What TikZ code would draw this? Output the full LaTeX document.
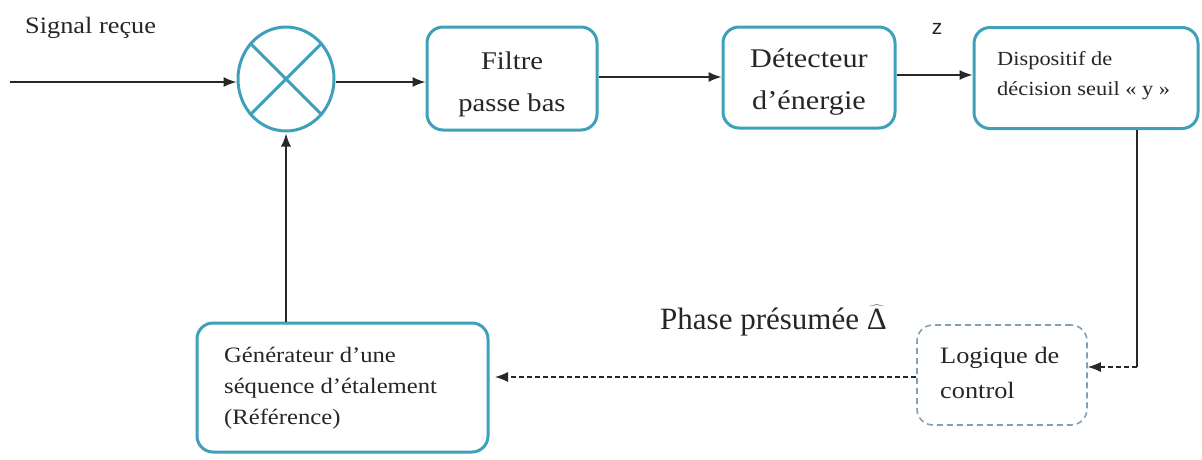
\documentclass[tikz,border=0pt]{standalone}
\usepackage{fontspec}
\setmainfont{Liberation Serif}[FakeStretch=1.12]
\newfontfamily\plainserif{Liberation Serif}
\setsansfont{Liberation Sans}
\usetikzlibrary{arrows.meta,shapes.geometric,calc}
\definecolor{tealc}{RGB}{62,160,185}
\definecolor{dashc}{RGB}{130,160,180}
\definecolor{linec}{RGB}{40,40,40}
\begin{document}
\begin{tikzpicture}[x=1pt,y=1pt,
  blk/.style={draw=tealc, line width=3pt, rounded corners=16pt, fill=white, inner sep=0pt},
  ctl/.style={draw=dashc, line width=1.6pt, dash pattern=on 6pt off 4pt, rounded corners=16pt, inner sep=0pt},
  txt/.style={inner sep=0pt, text=black!85},
  wire/.style={draw=linec, line width=1.5pt},
  arr/.style={wire, -{Latex[length=13pt,width=10pt]}},
  darr/.style={arr, line width=1.3pt, dash pattern=on 5pt off 3pt},
]
\useasboundingbox (0,0) rectangle (1202,-459);

% mixer
\node[ellipse, draw=tealc, line width=3pt, minimum width=96pt, minimum height=104pt, inner sep=0pt] (mix) at (286,-79) {};
\draw[tealc, line width=3pt] (mix.45) -- (mix.225) (mix.135) -- (mix.315);

% boxes
\node[blk, minimum width=170pt, minimum height=103pt] (filt) at (512,-78.5) {};
\node[blk, minimum width=172pt, minimum height=101pt] (det) at (809,-77.5) {};
\node[blk, minimum width=224pt, minimum height=101pt] (disp) at (1086,-78) {};
\node[blk, minimum width=291pt, minimum height=129pt] (gen) at (342.5,-387.5) {};
\node[ctl, minimum width=170pt, minimum height=100pt] (logic) at (1002,-375) {};

% texts
\node[txt, align=center, font=\fontsize{25.5}{42}\selectfont] (filt-t) at (512,-84) {Filtre\\passe bas};
\node[txt, align=center, font=\fontsize{27}{42}\selectfont] (det-t) at (809,-82) {Détecteur\\d’énergie};
\node[txt, align=left, anchor=west, font=\fontsize{20}{30}\selectfont] (disp-t) at (997,-76) {Dispositif de\\décision seuil « y »};
\node[txt, align=left, anchor=west, font=\fontsize{22}{31}\selectfont] (gen-t) at (224,-388) {Générateur d’une\\séquence d’étalement\\(Référence)};
\node[txt, align=left, anchor=west, font=\fontsize{23.5}{35}\selectfont] (logic-t) at (940,-373) {Logique de\\control};
\node[txt, anchor=base west, font=\fontsize{23.5}{28}\selectfont] (sig) at (25,-33) {Signal reçue};
\node[txt, anchor=base, font=\sffamily\fontsize{21}{24}\selectfont] (z) at (937,-34) {z};
\node[txt, anchor=base west, font=\plainserif\fontsize{31}{34}\selectfont] (phase) at (660,-329) {Phase présumée $\widehat{\mbox{\plainserif Δ}}$};

% connectors
\coordinate (src) at (10,-82);
\draw[arr] (src) -- (src -| mix.west);
\coordinate (m1) at ([yshift=-3pt]mix.east);
\draw[arr] (m1) -- (m1 -| filt.west);
\coordinate (f1) at ([yshift=1.5pt]filt.east);
\draw[arr] (f1) -- (f1 -| det.west);
\coordinate (d1) at ([yshift=2.5pt]det.east);
\draw[arr] (d1) -- (d1 -| disp.west);
\coordinate (r0) at ([xshift=51pt]disp.south);
\coordinate (r1) at (1137,-367);
\draw[wire] (r0) -- (r1);
\draw[darr] (r1) -- (r1 -| logic.east);
\coordinate (g1) at (495,-377);
\draw[darr] (logic.west |- g1) -- (g1);
\draw[arr, shorten >=1pt] (gen.north -| mix.south) -- (mix.south);
\end{tikzpicture}
\end{document}
